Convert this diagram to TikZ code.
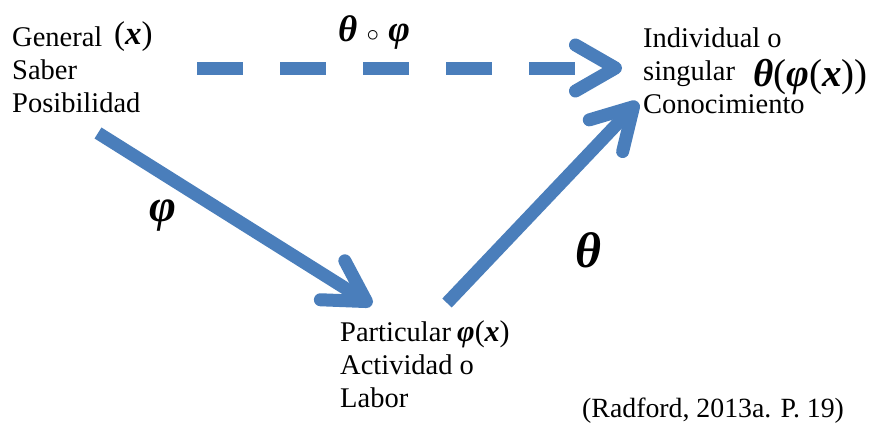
\documentclass[tikz,border=0pt]{standalone}
\usepackage{fontspec}
\setmainfont{Liberation Serif}
\usetikzlibrary{arrows.meta}
\definecolor{azul}{RGB}{74,126,187}
\newcommand{\bi}[1]{\textbf{\textit{#1}}}

\begin{document}
\begin{tikzpicture}[x=1pt,y=-1pt,
  texto/.style={anchor=north west, align=left, inner sep=0pt, font=\fontsize{28.5}{33}\selectfont},
  mate/.style={inner sep=0pt, font=\fontsize{#1}{#1}\selectfont},
  mate/.default=30,
  flecha/.style={line width=13pt, draw=azul, -{Straight Barb[length=40pt,width=46pt,round]}}]

\useasboundingbox (0,0) rectangle (883,423);

% bloques de texto
\node[texto] (general) at (12,27) {General\\Saber\\Posibilidad};
\node[texto] (indiv) at (643,28) {Individual o\\singular\\Conocimiento};
\node[texto] (partic) at (340,322) {Particular\\Actividad o\\Labor};
\node[texto, anchor=base west, font=\fontsize{27.8}{33}\selectfont] (cita) at (582,417) {(Radford, 2013a. P. 19)};

% expresiones
\node[mate=33, anchor=base west] (gx) at (114,44) {(\bi{x})};
\node[mate=39, anchor=base west] (tfx) at (753,86) {\bi{θ}(\bi{φ}(\bi{x}))};
\node[mate=30, anchor=base west] (fx) at (457,341) {\bi{φ}(\bi{x})};

% extremos de las flechas
\coordinate (d0) at (197,68);
\coordinate (d1) at (622,68);
\coordinate (a0) at (98,133);
\coordinate (a1) at (372,305);
\coordinate (b0) at (447,303);
\coordinate (b1) at (638,102);

\draw[flecha, dash pattern=on 46pt off 37pt] (d0) -- (d1);
\draw[flecha] (a0) -- (a1);
\draw[flecha] (b0) -- (b1);

% etiquetas
\node[mate=37] (comp) at (374,33) {\bi{θ} $\circ$ \bi{φ}};
\node[mate=46] (phi) at (163,216) {\bi{φ}};
\node[mate=50] (theta) at (588,250) {\bi{θ}};

\end{tikzpicture}
\end{document}
